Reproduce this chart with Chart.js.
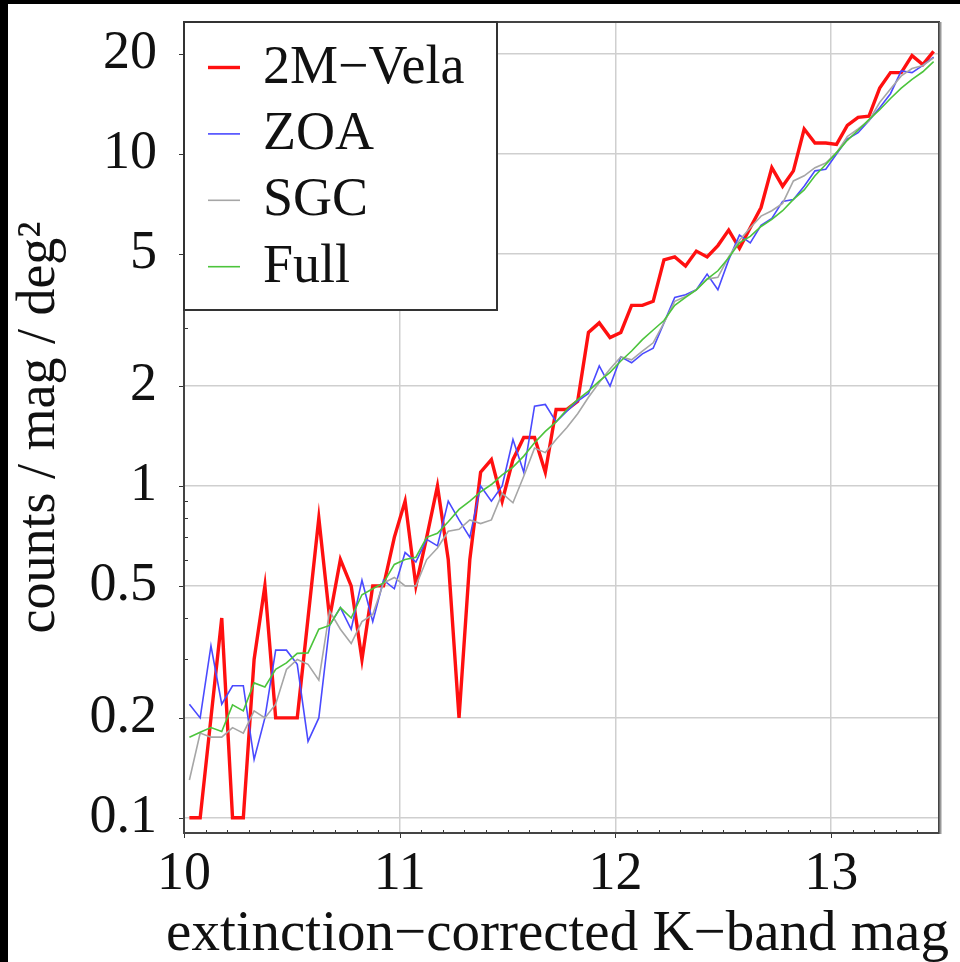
<!DOCTYPE html>
<html>
<head>
<meta charset="utf-8">
<script src="https://cdn.jsdelivr.net/npm/chart.js@4.4.1/dist/chart.umd.min.js"></script>
<style>
  html, body { margin: 0; padding: 0; background: #000; }
  #wrap { position: absolute; left: 8px; top: 4px; width: 952px; height: 958px; background: #fff; }
</style>
</head>
<body>
<div id="wrap"><canvas id="kcounts" width="952" height="958"></canvas></div>
<script>
// bin centres (K mag)
const magBins = [
  10.025, 10.075, 10.125, 10.175, 10.225, 10.275, 10.325, 10.375, 10.425, 10.475,
  10.525, 10.575, 10.625, 10.675, 10.725, 10.775, 10.825, 10.875, 10.925, 10.975,
  11.025, 11.075, 11.125, 11.175, 11.225, 11.275, 11.325, 11.375, 11.425, 11.475,
  11.525, 11.575, 11.625, 11.675, 11.725, 11.775, 11.825, 11.875, 11.925, 11.975,
  12.025, 12.075, 12.125, 12.175, 12.225, 12.275, 12.325, 12.375, 12.425, 12.475,
  12.525, 12.575, 12.625, 12.675, 12.725, 12.775, 12.825, 12.875, 12.925, 12.975,
  13.025, 13.075, 13.125, 13.175, 13.225, 13.275, 13.325, 13.375, 13.425, 13.475
];

const velaCounts = [
  0.1, 0.1, 0.2, 0.4, 0.1, 0.1, 0.3, 0.5, 0.2, 0.2,
  0.2, 0.4, 0.8, 0.4, 0.6, 0.5, 0.3, 0.5, 0.5, 0.7,
  0.9, 0.5, 0.7, 1.0, 0.6, 0.2, 0.6, 1.1, 1.2, 0.9,
  1.2, 1.4, 1.4, 1.1, 1.7, 1.7, 1.8, 2.9, 3.1, 2.8,
  2.9, 3.5, 3.5, 3.6, 4.8, 4.9, 4.6, 5.1, 4.9, 5.3,
  5.9, 5.2, 6.0, 6.9, 9.1, 8.0, 8.9, 11.9, 10.8, 10.8,
  10.7, 12.2, 12.9, 13.0, 15.8, 17.6, 17.6, 19.8, 18.6, 20.4
];

const zoaCounts = [
  0.22, 0.2, 0.33, 0.22, 0.25, 0.25, 0.15, 0.2, 0.32, 0.32,
  0.29, 0.17, 0.2, 0.38, 0.43, 0.37, 0.52, 0.39, 0.52, 0.49,
  0.63, 0.59, 0.69, 0.66, 0.9, 0.79, 0.7, 1.0, 0.9, 1.0,
  1.38, 1.1, 1.74, 1.76, 1.56, 1.68, 1.8, 1.9, 2.3, 2.0,
  2.45, 2.35, 2.5, 2.6, 3.1, 3.7, 3.77, 3.9, 4.35, 3.9,
  4.8, 5.7, 5.4, 6.1, 6.4, 7.2, 7.3, 8.0, 8.9, 9.0,
  10.0, 11.1, 11.6, 12.6, 13.8, 15.2, 17.8, 17.6, 18.5, 19.6
];

const sgcCounts = [
  0.13, 0.18, 0.175, 0.175, 0.187, 0.18, 0.21, 0.2, 0.22, 0.28,
  0.3, 0.29, 0.26, 0.42, 0.37, 0.335, 0.39, 0.41, 0.51, 0.53,
  0.5, 0.5, 0.6, 0.65, 0.73, 0.74, 0.79, 0.77, 0.79, 0.95,
  0.89, 1.07, 1.3, 1.26, 1.38, 1.5, 1.65, 1.85, 2.05, 2.25,
  2.45, 2.4, 2.55, 2.7, 3.1, 3.6, 3.72, 3.9, 4.2, 4.25,
  4.9, 5.5, 6.0, 6.5, 6.75, 7.1, 8.3, 8.6, 9.1, 9.4,
  10.1, 11.3, 11.9, 12.6, 14.3, 15.7, 17.2, 18.1, 18.5, 19.5
];

const fullCounts = [
  0.175, 0.181, 0.187, 0.182, 0.219, 0.21, 0.255, 0.248, 0.28, 0.293,
  0.313, 0.314, 0.37, 0.38, 0.43, 0.4, 0.47, 0.49, 0.51, 0.58,
  0.6, 0.61, 0.7, 0.72, 0.78, 0.85, 0.9, 0.96, 1.01, 1.08,
  1.14, 1.23, 1.35, 1.46, 1.56, 1.7, 1.82, 1.93, 2.07, 2.2,
  2.38, 2.55, 2.76, 2.95, 3.15, 3.5, 3.7, 3.9, 4.2, 4.45,
  4.87, 5.4, 5.65, 6.05, 6.36, 6.75, 7.3, 7.8, 8.6, 9.3,
  10.1, 11.0, 11.8, 12.7, 13.6, 14.7, 15.8, 16.8, 17.7, 19.0
];

const seriesNames = ['2M\u2212Vela', 'ZOA', 'SGC', 'Full'];
const xTickLabels = [10, 11, 12, 13];
const yTickLabels = [0.1, 0.2, 0.5, 1, 2, 5, 10, 20];
const xTitle = 'extinction\u2212corrected K\u2212band mag';
const yTitle = 'counts / mag / deg\u00b2';

const SERIF = "'Liberation Serif', 'DejaVu Serif', serif";

function toPoints(arr) {
  return magBins.map((m, i) => ({ x: m, y: arr[i] }));
}

// frame, small tick marks, x title and the boxed legend
const framePlugin = {
  id: 'frame',
  afterDraw(chart) {
    const ctx = chart.ctx;
    const a = chart.chartArea;
    const xs = chart.scales.x, ys = chart.scales.y;
    ctx.save();
    ctx.strokeStyle = '#333';
    ctx.lineWidth = 1;
    // x ticks: minor inside, major outside
    for (let v = xs.min; v <= xs.max + 1e-9; v += 0.1) {
      const px = Math.round(xs.getPixelForValue(v)) + 0.5;
      const major = Math.abs(v - Math.round(v)) < 1e-6;
      ctx.beginPath();
      if (major) { ctx.moveTo(px, a.bottom); ctx.lineTo(px, a.bottom + 5); }
      else { ctx.moveTo(px, a.bottom); ctx.lineTo(px, a.bottom - 3); }
      ctx.stroke();
    }
    // y ticks
    for (let dec = 0.01; dec <= 100; dec *= 10) {
      for (let m = 1; m <= 9; m++) {
        const v = m * dec;
        if (v < ys.min || v > ys.max) continue;
        const py = Math.round(ys.getPixelForValue(v)) + 0.5;
        const major = yTickLabels.some(t => Math.abs(t - v) / t < 1e-6);
        ctx.beginPath();
        if (major) { ctx.moveTo(a.left, py); ctx.lineTo(a.left - 5, py); }
        else { ctx.moveTo(a.left, py); ctx.lineTo(a.left + 4, py); }
        ctx.stroke();
      }
    }
    // frame
    ctx.lineWidth = 2;
    ctx.strokeStyle = '#444';
    ctx.strokeRect(a.left, a.top, a.right - a.left, a.bottom - a.top);
    ctx.strokeStyle = '#999';
    ctx.beginPath();
    ctx.moveTo(a.right + 1.5, a.top);
    ctx.lineTo(a.right + 1.5, a.bottom + 1);
    ctx.stroke();

    // x axis title (wider than the plot, so drawn here)
    ctx.fillStyle = '#111';
    ctx.font = '57px ' + SERIF;
    ctx.textAlign = 'center';
    ctx.textBaseline = 'middle';
    ctx.fillText(xTitle, (a.left + a.right) / 2 - 4, 931);

    // legend box
    const bx = a.left, by = a.top, bw = 313, bh = 288;
    ctx.fillStyle = '#fff';
    ctx.fillRect(bx, by, bw, bh);
    ctx.lineWidth = 2;
    ctx.strokeStyle = '#333';
    ctx.strokeRect(bx, by, bw, bh);
    ctx.font = '54px ' + SERIF;
    ctx.textBaseline = 'middle';
    ctx.textAlign = 'left';
    chart.data.datasets.forEach((ds, i) => {
      const ry = by + 45.5 + i * 66.4;
      ctx.strokeStyle = ds.borderColor;
      ctx.lineWidth = ds.borderWidth;
      ctx.beginPath();
      ctx.moveTo(bx + 24, ry);
      ctx.lineTo(bx + 56, ry);
      ctx.stroke();
      ctx.fillStyle = '#111';
      ctx.fillText(ds.label, bx + 79, ry + 1);
    });
    ctx.restore();
  }
};

const ctx = document.getElementById('kcounts');
new Chart(ctx, {
  type: 'line',
  data: {
    datasets: [
      { label: seriesNames[0], data: toPoints(velaCounts), borderColor: '#ff1010', borderWidth: 3.4, order: 3 },
      { label: seriesNames[1], data: toPoints(zoaCounts), borderColor: '#4a4aff', borderWidth: 1.6, order: 2 },
      { label: seriesNames[2], data: toPoints(sgcCounts), borderColor: '#a6a6a6', borderWidth: 1.6, order: 1 },
      { label: seriesNames[3], data: toPoints(fullCounts), borderColor: '#4cc43c', borderWidth: 1.6, order: 0 }
    ]
  },
  options: {
    responsive: false,
    animation: false,
    devicePixelRatio: 1,
    elements: { point: { radius: 0 }, line: { tension: 0, fill: false } },
    layout: { padding: { top: 18, right: 21, left: 0, bottom: 0 } },
    plugins: { legend: { display: false }, tooltip: { enabled: false } },
    scales: {
      x: {
        type: 'linear',
        min: 10,
        max: 13.5,
        afterBuildTicks: s => { s.ticks = xTickLabels.map(v => ({ value: v })); },
        afterFit: s => { s.height = 129; },
        grid: { color: '#cfcfcf', lineWidth: 1.5, drawTicks: false },
        border: { display: false },
        ticks: {
          autoSkip: false,
          maxRotation: 0,
          padding: 15,
          color: '#111',
          font: { family: SERIF, size: 54, lineHeight: 1 },
          callback: v => String(v)
        },
        title: { display: false }
      },
      y: {
        type: 'logarithmic',
        min: 0.09,
        max: 25,
        afterBuildTicks: s => { s.ticks = yTickLabels.map(v => ({ value: v })); },
        afterFit: s => { s.width = 176; s.paddingTop = 0; s.paddingBottom = 0; },
        grid: { color: '#cfcfcf', lineWidth: 1.5, drawTicks: false },
        border: { display: false },
        ticks: {
          autoSkip: false,
          padding: 27,
          color: '#111',
          font: { family: SERIF, size: 54, lineHeight: 1 },
          callback: v => String(v)
        },
        title: {
          display: true,
          text: yTitle,
          color: '#111',
          padding: { top: 5, bottom: 0 },
          font: { family: SERIF, size: 54, lineHeight: 1 }
        }
      }
    }
  },
  plugins: [framePlugin]
});
</script>
</body>
</html>
